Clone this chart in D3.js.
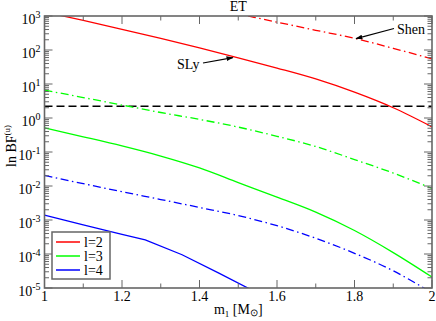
<!DOCTYPE html>
<html>
<head>
<meta charset="utf-8">
<script src="https://cdn.jsdelivr.net/npm/d3@7"></script>
<style>
	body { margin: 0; background: #fff; }
</style>
</head>
<body>
<div id="chart"></div>
<script>
// masses (solar masses)
let masses = [1.0, 1.1, 1.2, 1.3, 1.4, 1.5, 1.6, 1.7, 1.8, 1.9, 2.0]
let massesShenL2 = [1.4, 1.5, 1.6, 1.7, 1.8, 1.9, 2.0]
let massesSlyL4 = [1.0, 1.1, 1.2, 1.26, 1.355, 1.45, 1.55]

// ln BF values
let slyL2  = [1318, 741, 407, 219, 115, 59, 29.5, 14.1, 5.75, 2.0, 0.55]
let shenL2 = [2000, 1150, 660, 380, 220, 112, 55]
let slyL3  = [0.51, 0.28, 0.151, 0.076, 0.034, 0.0126, 0.0047, 0.0017, 4.9e-4, 1.1e-4, 2.1e-5]
let shenL3 = [6.6, 4.0, 2.4, 1.45, 0.91, 0.54, 0.29, 0.145, 0.060, 0.024, 0.0085]
let slyL4  = [1.38e-3, 7.2e-4, 3.8e-4, 2.6e-4, 9.5e-5, 2.75e-5, 7.1e-6]
let shenL4 = [0.0204, 0.0117, 0.0068, 0.0040, 0.00234, 0.00135, 6.8e-4, 2.9e-4, 1.05e-4, 3.2e-5, 7.2e-6]

let threshold = 2.2
let xTicks = [1, 1.2, 1.4, 1.6, 1.8, 2]
let yExponents = [3, 2, 1, 0, -1, -2, -3, -4, -5]
let legendLabels = ['l=2', 'l=3', 'l=4']
let colors = ['#ff0000', '#00ff00', '#0000ff']

let font = '"Liberation Serif", "Times New Roman", Times, serif'
let dims = {width: 436, height: 321, margin: {left: 44.5, top: 16, right: 4, bottom: 33}}
let innerW = dims.width - dims.margin.left - dims.margin.right
let innerH = dims.height - dims.margin.top - dims.margin.bottom

let x = d3.scaleLinear().domain([1, 2]).range([0, innerW])
let y = d3.scaleLog().domain([1e-5, 1e3]).range([innerH, 0])

let svg = d3.select('#chart').append('svg')
	.attr('width', dims.width)
	.attr('height', dims.height)
	.attr('font-family', font)

let defs = svg.append('defs')
defs.append('clipPath').attr('id', 'clip')
	.append('rect').attr('width', innerW).attr('height', innerH)
defs.append('marker')
	.attr('id', 'arrow')
	.attr('viewBox', '0 0 10 10')
	.attr('refX', 9).attr('refY', 5)
	.attr('markerWidth', 7).attr('markerHeight', 7)
	.attr('markerUnits', 'userSpaceOnUse')
	.attr('orient', 'auto')
	.append('path').attr('d', 'M0,1.5 L10,5 L0,8.5 Z').attr('fill', '#000')

let g = svg.append('g').attr('transform', `translate(${dims.margin.left},${dims.margin.top})`)

// series
let dashDot = '8,3.5,1.5,3.5'
let series = [
	{m: masses, v: slyL2, color: colors[0], dash: null, curve: d3.curveMonotoneX},
	{m: massesShenL2, v: shenL2, color: colors[0], dash: dashDot, curve: d3.curveMonotoneX},
	{m: masses, v: slyL3, color: colors[1], dash: null, curve: d3.curveMonotoneX},
	{m: masses, v: shenL3, color: colors[1], dash: dashDot, curve: d3.curveMonotoneX},
	{m: massesSlyL4, v: slyL4, color: colors[2], dash: null, curve: d3.curveLinear},
	{m: masses, v: shenL4, color: colors[2], dash: dashDot, curve: d3.curveMonotoneX}
]

let plot = g.append('g').attr('clip-path', 'url(#clip)')

plot.append('line')
	.attr('x1', x(1)).attr('x2', x(2))
	.attr('y1', y(threshold)).attr('y2', y(threshold))
	.attr('stroke', '#000').attr('stroke-width', 1.5)
	.attr('stroke-dasharray', '8,4')

plot.selectAll('path.series')
	.data(series)
	.enter()
	.append('path')
	.classed('series', true)
	.attr('d', s => d3.line().curve(s.curve).x(d => x(d[0])).y(d => y(d[1]))(s.m.map((mm, i) => [mm, s.v[i]])))
	.attr('fill', 'none')
	.attr('stroke', s => s.color)
	.attr('stroke-width', 1.3)
	.attr('stroke-dasharray', s => s.dash)

// frame and ticks
let axisColor = '#666'
let xMinor = d3.range(1, 2.0001, 0.1)
let yMinor = []
yExponents.slice(0, -1).forEach(e => {
	for (let k = 2; k <= 9; k++) yMinor.push(k * Math.pow(10, e - 1))
})

let ticks = g.append('g').attr('stroke', axisColor).attr('stroke-width', 1)
xMinor.forEach(v => {
	let major = xTicks.some(t => Math.abs(t - v) < 1e-6)
	let len = major ? 8 : 4.5
	ticks.append('line').attr('x1', x(v)).attr('x2', x(v)).attr('y1', innerH).attr('y2', innerH - len)
	ticks.append('line').attr('x1', x(v)).attr('x2', x(v)).attr('y1', 0).attr('y2', len)
})
yExponents.forEach(e => {
	let yy = y(Math.pow(10, e))
	ticks.append('line').attr('x1', 0).attr('x2', 8).attr('y1', yy).attr('y2', yy)
	ticks.append('line').attr('x1', innerW).attr('x2', innerW - 8).attr('y1', yy).attr('y2', yy)
})
yMinor.forEach(v => {
	let yy = y(v)
	ticks.append('line').attr('x1', 0).attr('x2', 4.5).attr('y1', yy).attr('y2', yy)
	ticks.append('line').attr('x1', innerW).attr('x2', innerW - 4.5).attr('y1', yy).attr('y2', yy)
})

g.append('rect')
	.attr('width', innerW).attr('height', innerH)
	.attr('fill', 'none')
	.attr('stroke', axisColor).attr('stroke-width', 1.6)

// tick labels
g.selectAll('text.xtick')
	.data(xTicks)
	.enter()
	.append('text')
	.classed('xtick', true)
	.attr('x', d => x(d))
	.attr('y', innerH + 13)
	.attr('text-anchor', 'middle')
	.attr('font-size', 14)
	.text(d => d3.format('')(d))

let yl = g.selectAll('text.ytick')
	.data(yExponents)
	.enter()
	.append('text')
	.classed('ytick', true)
	.attr('x', -4)
	.attr('y', d => y(Math.pow(10, d)) + 8)
	.attr('text-anchor', 'end')
	.attr('font-size', 14)
yl.append('tspan').text('10')
yl.append('tspan').attr('dy', -6).attr('font-size', 10).text(d => d)

// title and axis labels
g.append('text')
	.attr('x', innerW / 2).attr('y', -5)
	.attr('text-anchor', 'middle').attr('font-size', 14)
	.text('ET')

let xl = g.append('text')
	.attr('x', innerW / 2).attr('y', innerH + 26)
	.attr('text-anchor', 'middle').attr('font-size', 14)
xl.append('tspan').text('m')
xl.append('tspan').attr('dy', 3).attr('font-size', 9).text('1')
xl.append('tspan').attr('dy', -3).text(' [M')
xl.append('tspan').attr('dy', 2).attr('font-size', 10).text('\u2299')
xl.append('tspan').attr('dy', -2).text(']')

let ylab = svg.append('text')
	.attr('transform', `translate(16,${dims.margin.top + innerH / 2 - 6}) rotate(-90)`)
	.attr('text-anchor', 'middle').attr('font-size', 14)
ylab.append('tspan').text('ln BF')
ylab.append('tspan').attr('dy', -6).attr('font-size', 9).text('(u)')

// annotations
g.append('text').attr('x', 177 - dims.margin.left).attr('y', 69 - dims.margin.top)
	.attr('font-size', 14).text('SLy')
g.append('line')
	.attr('x1', 203 - dims.margin.left).attr('y1', 63 - dims.margin.top)
	.attr('x2', x(1.486)).attr('y2', y(60))
	.attr('stroke', '#000').attr('stroke-width', 1.2)
	.attr('marker-end', 'url(#arrow)')

g.append('text').attr('x', 397 - dims.margin.left).attr('y', 34 - dims.margin.top)
	.attr('font-size', 14).text('Shen')
g.append('line')
	.attr('x1', 394 - dims.margin.left).attr('y1', 28.5 - dims.margin.top)
	.attr('x2', x(1.804)).attr('y2', y(216))
	.attr('stroke', '#000').attr('stroke-width', 1.2)
	.attr('marker-end', 'url(#arrow)')

// legend
let legend = g.append('g').attr('transform', `translate(${52 - dims.margin.left},${232 - dims.margin.top})`)
legend.append('rect')
	.attr('width', 58).attr('height', 47)
	.attr('fill', '#fff').attr('stroke', axisColor).attr('stroke-width', 1.5)
let rows = legend.selectAll('g.row')
	.data(legendLabels)
	.enter()
	.append('g')
	.classed('row', true)
	.attr('transform', (d, i) => `translate(0,${10 + i * 14})`)
rows.append('line')
	.attr('x1', 4).attr('x2', 28)
	.attr('stroke', (d, i) => colors[i]).attr('stroke-width', 1.5)
rows.append('text')
	.attr('x', 32).attr('y', 5)
	.attr('font-size', 14)
	.text(d => d)
</script>
</body>
</html>
